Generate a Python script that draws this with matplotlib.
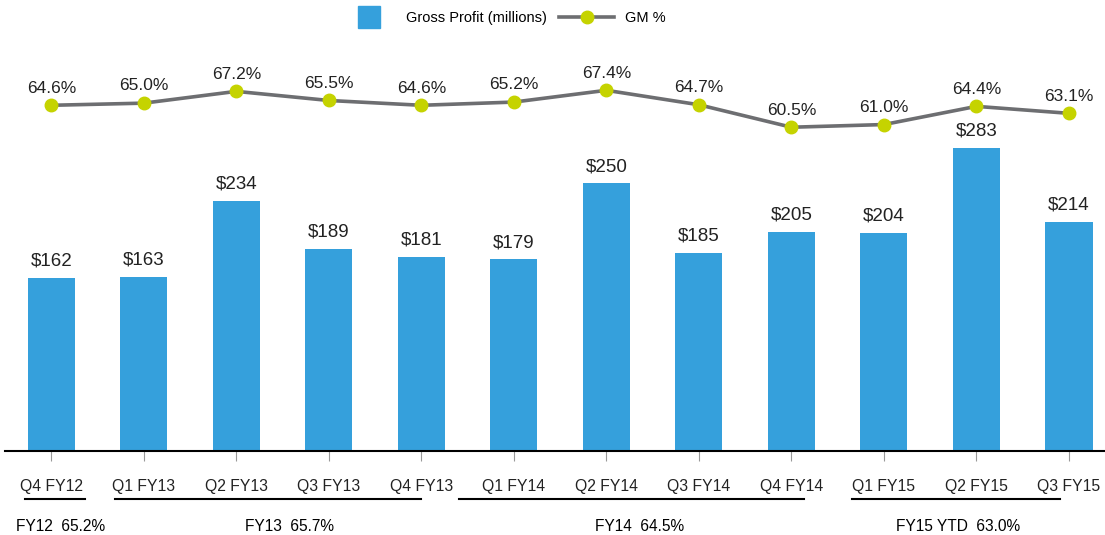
import matplotlib
matplotlib.use("Agg")
import matplotlib.pyplot as plt
from matplotlib.lines import Line2D
import numpy as np

plt.rcParams['font.family'] = ['Liberation Sans', 'DejaVu Sans']

quarters = ["Q4 FY12", "Q1 FY13", "Q2 FY13", "Q3 FY13", "Q4 FY13", "Q1 FY14",
            "Q2 FY14", "Q3 FY14", "Q4 FY14", "Q1 FY15", "Q2 FY15", "Q3 FY15"]
gross_profit = [162, 163, 234, 189, 181, 179, 250, 185, 205, 204, 283, 214]
gm_pct = [64.6, 65.0, 67.2, 65.5, 64.6, 65.2, 67.4, 64.7, 60.5, 61.0, 64.4, 63.1]

fy_labels = ["FY12  65.2%", "FY13  65.7%", "FY14  64.5%", "FY15 YTD  63.0%"]

# layout only: underline extents and label centres (x in bar units)
fy_lines = [(-0.28, 0.36), (0.69, 4.0), (4.41, 8.14), (8.66, 10.9)]
fy_text_x = [0.1, 2.58, 6.36, 9.8]

bar_color = '#35A0DC'
line_color = '#6D6E71'
marker_color = '#C5D300'

fig = plt.figure(figsize=(11.05, 5.35), dpi=100)
ax = fig.add_axes([5 / 1105, 84 / 535, 1100 / 1105, 411 / 535])

x = np.arange(len(quarters))
bars = ax.bar(x, gross_profit, width=0.51, color=bar_color, zorder=2)
ax.set_xlim(-0.5, 11.39)
ax.set_ylim(0, 384)

for xi, v in zip(x, gross_profit):
    ax.annotate("$%d" % v, (xi, v), xytext=(0, 6), textcoords='offset points',
                ha='center', va='bottom', fontsize=13.5, color='#222222')

ax2 = ax.twinx()
ax2.set_ylim(0, 384 / 5)
ax2.plot(x, gm_pct, color=line_color, lw=2.6, marker='o', markersize=9,
         markerfacecolor=marker_color, markeredgecolor=marker_color, zorder=3)
for xi, v in zip(x, gm_pct):
    ax2.annotate("%.1f%%" % v, (xi, v), xytext=(0, 7), textcoords='offset points',
                 ha='center', va='bottom', fontsize=12.5, color='#222222')

for a in (ax, ax2):
    for s in ('top', 'right', 'left'):
        a.spines[s].set_visible(False)
    a.set_yticks([])
ax2.spines['bottom'].set_visible(False)
ax.spines['bottom'].set_linewidth(1.5)
ax.spines['bottom'].set_color('black')

ax.set_xticks(x)
ax.set_xticklabels(quarters, fontsize=11.3, color='#222222')
ax.tick_params(axis='x', length=7, width=0.8, color='#999999', pad=13)

trans = ax.get_xaxis_transform()
for (x0, x1), lab, tx in zip(fy_lines, fy_labels, fy_text_x):
    ax.plot([x0, x1], [-0.117, -0.117], transform=trans, color='black', lw=1.5,
            clip_on=False)
    ax.text(tx, -0.183, lab, transform=trans, ha='center', va='center',
            fontsize=11.2, color='black')

handles = [Line2D([], [], linestyle='none', marker='s', markersize=16,
                  markerfacecolor=bar_color, markeredgecolor=bar_color),
           Line2D([], [], color=line_color, lw=2.6, marker='o', markersize=9,
                  markerfacecolor=marker_color, markeredgecolor=marker_color)]
fig.legend(handles, ["Gross Profit (millions)", "GM %"], loc='center',
           bbox_to_anchor=(503 / 1105, 1 - 18 / 535), ncol=2, frameon=False,
           fontsize=10.5, handlelength=3.8, handletextpad=0.7, columnspacing=0.8)

fig.savefig("out.png", dpi=100)
